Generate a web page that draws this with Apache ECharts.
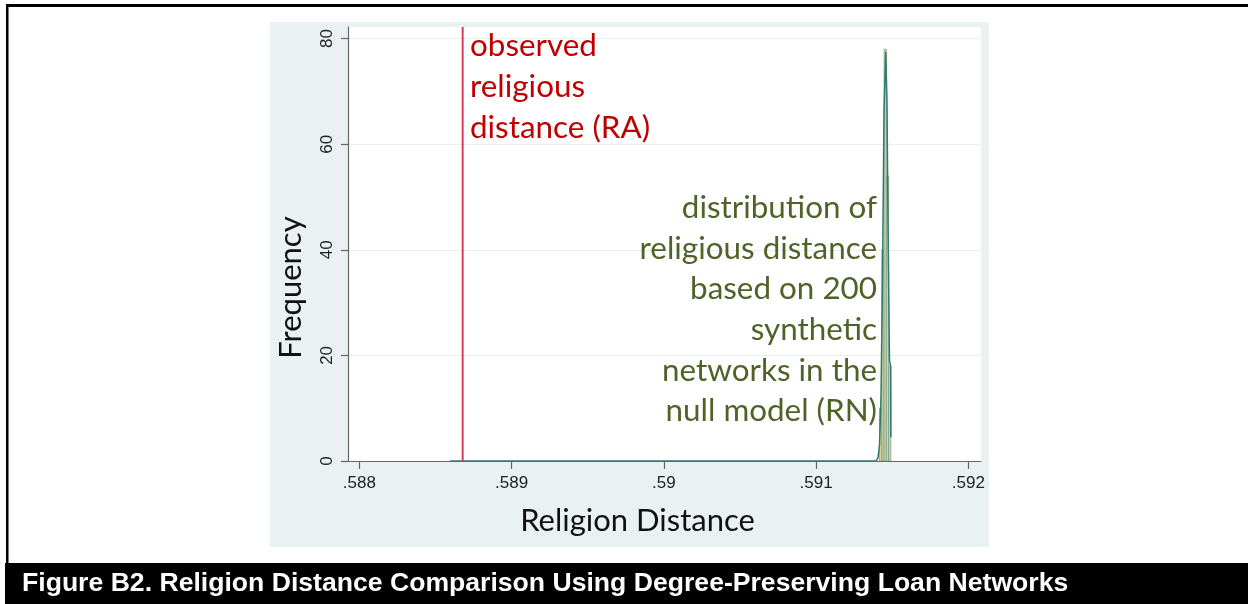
<!DOCTYPE html>
<html><head><meta charset="utf-8">
<script src="https://cdn.jsdelivr.net/npm/echarts@6/dist/echarts.min.js"></script>
<style>html,body{margin:0;padding:0;background:#fff}#chart{width:1248px;height:604px}</style>
</head><body><div id="chart"></div>
<script>
// ---- data ----
const xTickValues = [0.588, 0.589, 0.590, 0.591, 0.592];
const yTickValues = [0, 20, 40, 60, 80];
const yMax = 82.2;
const observedRA = 0.588679;
const binStarts = [0.5914167, 0.5914317, 0.5914467, 0.5914617, 0.5914767];
const binWidth = 0.0000150;
const binFreq = [10, 40, 78, 54, 18];
const densityX = [0.588596, 0.5913938, 0.5914069, 0.5914167, 0.5914266, 0.5914365, 0.5914463, 0.5914575, 0.5914660, 0.5914726, 0.5914824, 0.5914900, 0.5914915];
const densityY = [0, 0, 0.6, 3, 12, 35, 66, 77.5, 68, 45, 19, 18, 4.5];
const captionText = 'Figure B2. Religion Distance Comparison Using Degree-Preserving Loan Networks';
const redNote = 'observed\nreligious\ndistance (RA)';
const greenNote = 'distribution of\nreligious distance\nbased on 200\nsynthetic\nnetworks in the\nnull model (RN)';

const chart = echarts.init(document.getElementById('chart'), null, {renderer: 'canvas'});
const noteFont = 'Lato, "Open Sans", sans-serif';
const tickFont = '"Liberation Sans", Arial, sans-serif';

const option = {
  animation: false,
  backgroundColor: '#ffffff',
  grid: {
    left: 348, top: 27, width: 633, height: 434,
    show: true, backgroundColor: '#ffffff', borderWidth: 0,
    containLabel: false, outerBoundsMode: 'none'
  },
  xAxis: {
    type: 'value',
    min: 0.5879258, max: 0.5920834,
    name: 'Religion Distance',
    nameLocation: 'middle', nameGap: 44,
    nameTextStyle: {fontFamily: noteFont, fontSize: 31, color: '#111', padding: [0, 54, 0, 0]},
    axisLine: {show: true, onZero: false, lineStyle: {color: '#666', width: 1.2}},
    axisTick: {show: true, customValues: xTickValues, length: 8, lineStyle: {color: '#666', width: 1.2}},
    axisLabel: {show: true, customValues: xTickValues, margin: 14, fontFamily: tickFont, fontSize: 17, color: '#222',
      formatter: v => String(v).replace(/^0/, '')},
    splitLine: {show: false}
  },
  yAxis: {
    type: 'value',
    min: 0, max: yMax, interval: 20,
    name: 'Frequency',
    nameLocation: 'middle', nameRotate: 90, nameGap: 42,
    nameTextStyle: {fontFamily: noteFont, fontSize: 31, color: '#111', padding: [0, 87, 0, 0]},
    axisLine: {show: true, lineStyle: {color: '#666', width: 1.2}},
    axisTick: {show: true, customValues: yTickValues, length: 7, lineStyle: {color: '#666', width: 1.2}},
    axisLabel: {show: true, customValues: yTickValues, rotate: 90, margin: 12, fontFamily: tickFont, fontSize: 17, color: '#222'},
    splitLine: {show: true, lineStyle: {color: '#e6eff1', width: 1.2}}
  },
  graphic: [
    {type: 'rect', z: -5, shape: {x: 270, y: 22, width: 719, height: 525}, style: {fill: '#eaf1f3'}},
    {type: 'rect', z: 10, shape: {x: 6, y: 4, width: 1242, height: 3}, style: {fill: '#000'}},
    {type: 'rect', z: 10, shape: {x: 6, y: 4, width: 2.5, height: 562}, style: {fill: '#000'}},
    {type: 'rect', z: 10, shape: {x: 5, y: 563, width: 1243, height: 41}, style: {fill: '#000'}},
    {type: 'text', z: 11, style: {text: captionText, x: 22, y: 584, verticalAlign: 'middle', fill: '#fff',
      fontFamily: '"Liberation Sans", Arial, sans-serif', fontWeight: 'bold', fontSize: 26.6}},
    {type: 'text', z: 11, style: {text: redNote, x: 470, y: 25.5, verticalAlign: 'top', align: 'left', lineHeight: 41,
      fill: '#c00000', fontFamily: noteFont, fontSize: 31.4}},
    {type: 'text', z: 11, style: {text: greenNote, x: 877, y: 187.7, verticalAlign: 'top', align: 'right', lineHeight: 40.6,
      fill: '#4f6228', fontFamily: noteFont, fontSize: 31.4}}
  ],
  series: [
    {
      type: 'custom',
      name: 'histogram',
      z: 3,
      data: binStarts.map((s, i) => [s, s + binWidth, binFreq[i]]),
      encode: {x: [0, 1], y: 2},
      renderItem: (params, api) => {
        const p0 = api.coord([api.value(0), api.value(2)]);
        const p1 = api.coord([api.value(1), 0]);
        return {type: 'rect', shape: {x: p0[0], y: p0[1], width: p1[0] - p0[0], height: p1[1] - p0[1]},
          style: {fill: '#d9d49c', stroke: '#5c9186', lineWidth: 0.6}};
      }
    },
    {
      type: 'line',
      name: 'kdensity',
      z: 4,
      data: densityX.map((x, i) => [x, densityY[i]]),
      showSymbol: false, symbol: 'none',
      lineStyle: {color: '#2f7b70', width: 1.5}
    },
    {
      type: 'line',
      name: 'observed RA',
      z: 5,
      data: [[observedRA, 0], [observedRA, yMax]],
      showSymbol: false, symbol: 'none',
      lineStyle: {color: '#dc3c5a', width: 2}
    }
  ]
};
chart.setOption(option);
</script>
</body></html>
